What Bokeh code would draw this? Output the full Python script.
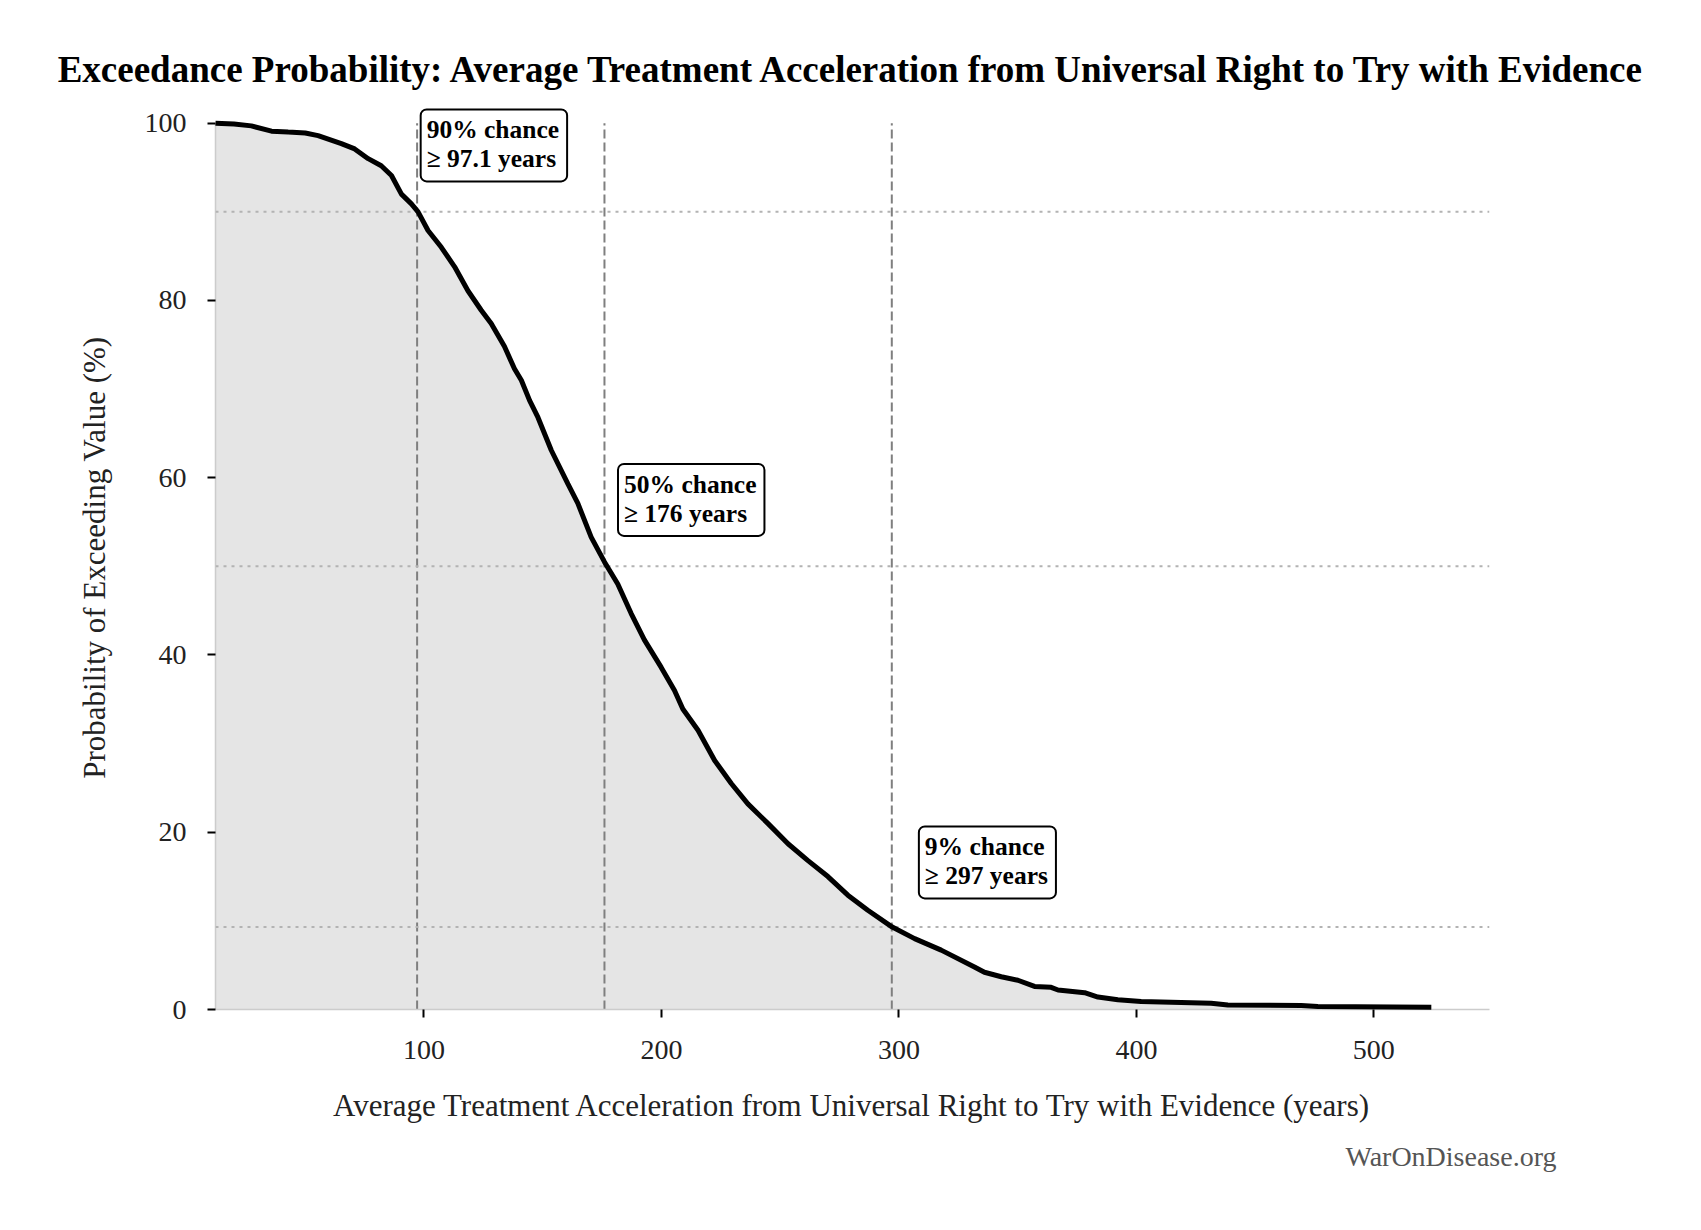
from bokeh.plotting import figure
from bokeh.models import Span, Label, Title
from bokeh.embed import file_html
from bokeh.resources import INLINE

# Exceedance curve: years vs % chance of exceeding
years = [12.2, 20, 27.3, 35.8, 42.8, 50, 55.4, 65.2, 70.8, 76.5, 82.0, 86.3,
         90.5, 94.7, 97.5, 101.7, 107.3, 112.9, 118.5, 124.1, 128.3, 133.9,
         138.1, 141.0, 144.5, 148.0, 153.6, 160.6, 164.8, 170.4, 176.0, 181.6,
         187.2, 192.8, 199.9, 205.5, 209.0, 215.4, 222.4, 229.4, 236.4, 244.8,
         253.3, 261.7, 270.1, 278.5, 286.9, 297.2, 306.6, 317.8, 331.8, 336.0,
         343.1, 350.1, 357.1, 364.1, 367.0, 378.2, 383.8, 392.2, 402.0, 431.5,
         438.5, 469.4, 476.4, 524.2]
exceed_pct = [100, 99.9, 99.7, 99.1, 99.0, 98.9, 98.6, 97.7, 97.1, 96.0, 95.2, 94.1,
              92.0, 90.9, 90.0, 87.9, 86.0, 83.8, 81.1, 78.9, 77.4, 74.8,
              72.3, 71.0, 68.7, 66.8, 63.1, 59.3, 57.1, 53.3, 50.5, 48.0,
              44.7, 41.7, 38.6, 36.0, 33.9, 31.5, 28.1, 25.5, 23.2, 21.0,
              18.7, 16.8, 15.0, 12.9, 11.2, 9.3, 8.0, 6.7, 4.8, 4.2,
              3.7, 3.3, 2.6, 2.5, 2.2, 1.9, 1.4, 1.1, 0.9, 0.7,
              0.5, 0.45, 0.35, 0.25]

# percentile markers
marker_years = [97.1, 176, 297]
marker_pct = [90, 50, 9.3]
marker_text = ["90% chance\n\u2265 97.1 years",
               "50% chance\n\u2265 176 years",
               "9% chance\n\u2265 297 years"]
box_x = [98.6, 181.7, 308.4]
box_y = [97.5, 57.5, 16.6]

x_ticks = [100, 200, 300, 400, 500]
y_ticks = [0, 20, 40, 60, 80, 100]

FONT = "Liberation Serif"

p = figure(
    width=1685, height=1214,
    x_range=(12.2, 548.7), y_range=(0, 102),
    title="Exceedance Probability: Average Treatment Acceleration from Universal Right to Try with Evidence",
    output_backend="svg", toolbar_location=None,
    min_border_left=215, min_border_right=196,
    min_border_top=105, min_border_bottom=205,
)
p.title.text_font = FONT
p.title.text_font_size = "37px"
p.title.text_font_style = "bold"
p.title.text_color = "black"
p.title.align = "center"
p.title.standoff = 31

p.outline_line_color = None
p.grid.visible = False

# shaded area under the curve
p.varea(x=years, y1=0, y2=exceed_pct, fill_color="#e5e5e5")

# dashed verticals at the percentile values, up to the top of the axis
p.segment(x0=marker_years, y0=y_ticks[0], x1=marker_years, y1=y_ticks[-1],
          line_color="#7f7f7f", line_width=2, line_dash="9 4")

for pc in marker_pct:
    p.add_layout(Span(location=pc, dimension="width", line_color="#b3b3b3",
                      line_width=2, line_dash="3 5"))

p.line(years, exceed_pct, line_color="black", line_width=5, level="overlay")

for txt, bx, by in zip(marker_text, box_x, box_y):
    p.add_layout(Label(
        x=bx, y=by, text=txt,
        text_align="left", text_baseline="middle",
        text_font=FONT, text_font_size="25.5px", text_font_style="bold",
        text_color="black", text_line_height=1.0,
        background_fill_color="white", border_line_color="black",
        border_line_width=2, border_radius=6, padding=(6, 8, 6, 8),
        level="overlay",
    ))

p.add_layout(Title(
    text="WarOnDisease.org", align="right", offset=-67, standoff=26,
    text_font=FONT, text_font_size="28px", text_font_style="normal",
    text_color="#555555",
), "below")

p.xaxis.ticker = x_ticks
p.yaxis.ticker = y_ticks
p.yaxis.bounds = (0, 100)
p.xaxis.axis_label = "Average Treatment Acceleration from Universal Right to Try with Evidence (years)"
p.yaxis.axis_label = "Probability of Exceeding Value (%)"
p.axis.axis_label_text_font = FONT
p.axis.axis_label_text_font_size = "31px"
p.axis.axis_label_text_font_style = "normal"
p.axis.axis_label_text_color = "#222222"
p.axis.major_label_text_font = FONT
p.axis.major_label_text_font_size = "28px"
p.axis.major_label_text_color = "#222222"
p.axis.axis_line_color = "#cccccc"
p.axis.axis_line_width = 1.5
p.axis.major_tick_line_color = "black"
p.axis.major_tick_line_width = 2
p.axis.major_tick_in = 0
p.axis.major_tick_out = 8
p.axis.minor_tick_line_color = None
p.xaxis.major_label_standoff = 23
p.xaxis.axis_label_standoff = 26
p.yaxis.major_label_standoff = 21
p.yaxis.axis_label_standoff = 30

open("out.html", "w").write(file_html(p, INLINE))
